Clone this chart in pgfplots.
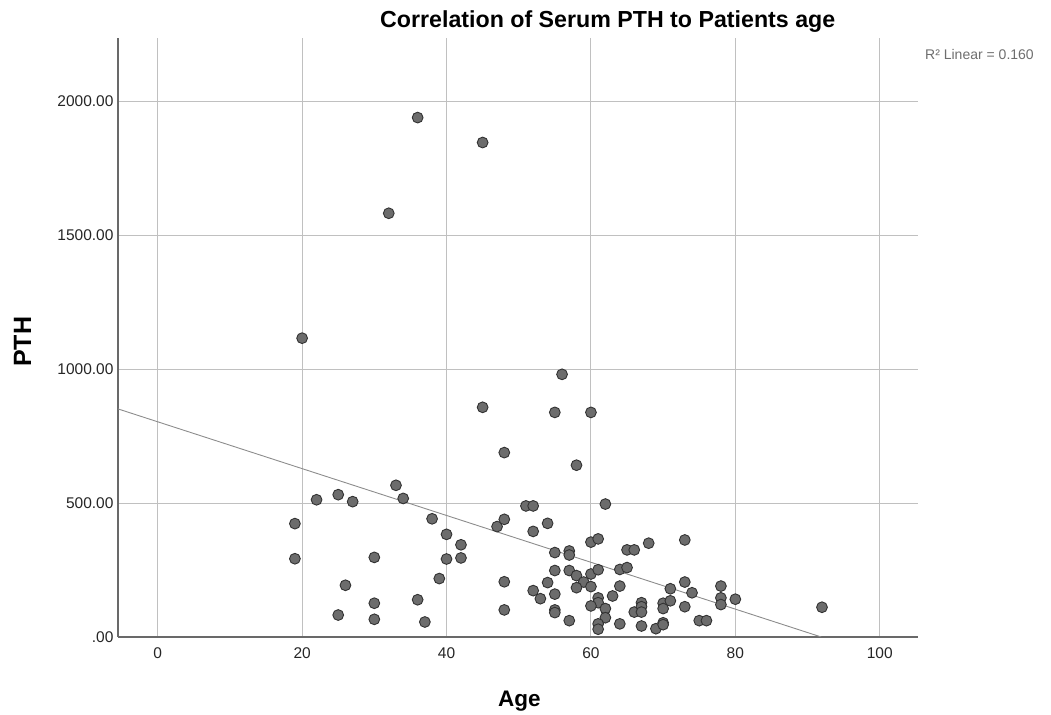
\documentclass[border=0pt]{standalone}
\usepackage{pgfplots}
\pgfplotsset{compat=1.18}
\usepackage{fontspec}
\setmainfont{Liberation Sans}
\definecolor{ptfill}{RGB}{108,108,108}
\definecolor{ptedge}{RGB}{50,50,50}
\definecolor{gridc}{RGB}{192,192,192}
\definecolor{axisc}{RGB}{105,105,105}
\definecolor{fitc}{RGB}{140,140,140}
\definecolor{rtext}{RGB}{110,110,110}
\begin{document}
\begin{tikzpicture}[x=1bp,y=1bp]
\useasboundingbox (0,0) rectangle (1051,715);
\begin{axis}[
  at={(118bp,78bp)}, anchor=south west,
  scale only axis, width=800bp, height=599bp,
  xmin=-5.5, xmax=105.3, ymin=0, ymax=2235,
  axis x line*=bottom, axis y line*=left,
  axis line style={axisc, line width=1.1pt, -},
  xtick={0,20,40,60,80,100},
  xticklabels={0,20,40,60,80,100},
  ytick={0,500,1000,1500,2000},
  yticklabels={.00,500.00,1000.00,1500.00,2000.00},
  major tick length=0pt,
  grid=major,
  major grid style={gridc, line width=0.9pt},
  tick label style={font=\fontsize{15.5bp}{18bp}\selectfont, black!85},
  xticklabel style={yshift=-7bp},
  yticklabel style={xshift=-1bp},
  clip=true,
]
\addplot[fitc, line width=0.9pt] coordinates {(-5.5,851) (91.9,0)};
\addplot[only marks, mark=*, mark size=5.4bp, mark options={fill=ptfill, draw=ptedge, line width=0.9pt}] coordinates {
(36,1938) (45,1845) (32,1581) (20,1115) (56,980) (45,857) (55,838) (60,838) (48,688) (58,641)
(19,423) (19,292) (22,512) (25,531) (27,505) (33,566) (34,517) (30,297) (26,193) (30,126)
(25,82) (30,66) (36,139) (37,56) (38,441) (40,383) (42,344) (40,291) (42,295) (39,218)
(47,412) (48,439) (48,206) (48,101) (51,489) (52,489) (62,496) (54,424) (52,394) (60,354)
(61,366) (65,325) (66,325) (68,350) (55,315) (57,321) (57,306) (55,248) (57,248) (58,229)
(60,235) (61,251) (64,252) (65,259) (59,205) (60,188) (58,184) (54,203) (52,173) (53,143)
(55,160) (64,190) (63,153) (61,146) (61,128) (60,116) (62,106) (62,72) (55,101) (55,91)
(57,61) (61,49) (61,29) (64,49) (66,93) (67,128) (67,113) (67,93) (67,41)
(73,362) (69,31) (70,126) (70,106) (70,53) (70,46) (71,180) (71,135) (73,205) (73,113)
(74,165) (75,61) (76,61) (78,190) (78,146) (78,121) (80,141) (92,111)
};
\end{axis}
\node[anchor=base west, inner sep=0pt, font=\fontsize{23.2bp}{28bp}\selectfont\bfseries] at (380,687) {Correlation of Serum PTH to Patients age};
\node[anchor=base west, inner sep=0pt, font=\fontsize{22.5bp}{27bp}\selectfont\bfseries] at (498,8) {Age};
\node[anchor=base west, rotate=90, inner sep=0pt, font=\fontsize{25bp}{30bp}\selectfont\bfseries] at (31,348) {PTH};
\node[anchor=base west, inner sep=0pt, text=rtext, font=\fontsize{14bp}{17bp}\selectfont] at (925,655) {R² Linear = 0.160};
\end{tikzpicture}
\end{document}
